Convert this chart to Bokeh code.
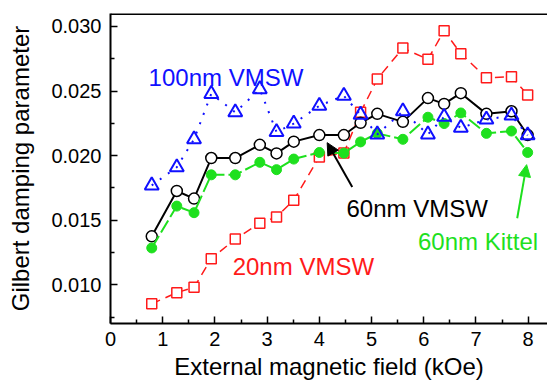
from bokeh.plotting import figure
from bokeh.models import Range1d, FixedTicker, Span, Arrow, NormalHead, Label, NumeralTickFormatter
from bokeh.embed import file_html
from bokeh.resources import INLINE

# Data
field = [0.79, 1.27, 1.60, 1.93, 2.39, 2.86, 3.18, 3.51, 4.00, 4.47,
         4.79, 5.11, 5.60, 6.08, 6.39, 6.71, 7.20, 7.68, 7.99]
vmsw60 = [0.01375, 0.01726, 0.01667, 0.01981, 0.01981, 0.02083, 0.02017, 0.02108, 0.02159, 0.02159,
          0.02254, 0.02323, 0.02261, 0.02445, 0.02400, 0.02483, 0.02323, 0.02343, 0.02159]
kittel60 = [0.01285, 0.01609, 0.01558, 0.01851, 0.01851, 0.01948, 0.01891, 0.01973, 0.02024, 0.02019,
            0.02106, 0.02172, 0.02126, 0.02297, 0.02248, 0.02330, 0.02172, 0.02190, 0.02024]
vmsw100 = [0.01769, 0.01910, 0.02126, 0.02478, 0.02335, 0.02514, 0.02182, 0.02248, 0.02386, 0.02463,
           0.02317, 0.02164, 0.02343, 0.02164, 0.02300, 0.02215, 0.02279, 0.02310, 0.02157]
vmsw20 = [0.00852, 0.00939, 0.00980, 0.01201, 0.01354, 0.01476, 0.01525, 0.01655, 0.01990, 0.02020,
          0.02335, 0.02593, 0.02832, 0.02745, 0.02967, 0.02789, 0.02602, 0.02610, 0.02470]

x_ticks = [0, 1, 2, 3, 4, 5, 6, 7, 8]
x_minor = [0.5, 1.5, 2.5, 3.5, 4.5, 5.5, 6.5, 7.5]
y_ticks = [0.010, 0.015, 0.020, 0.025, 0.030]
y_minor = [0.0075, 0.0125, 0.0175, 0.0225, 0.0275]

BLUE = "#1010ff"
RED = "#ff1a1a"
GREEN = "#1ee01e"
FONT = "Liberation Sans"

p = figure(width=547, height=382, output_backend="svg", toolbar_location=None,
           x_range=Range1d(0, 8.37), y_range=Range1d(0.007, 0.031),
           min_border_left=110, min_border_right=0, min_border_top=13, min_border_bottom=55)
p.outline_line_color = None
p.grid.visible = False
p.background_fill_color = "white"
p.border_fill_color = "white"

for ax in (p.xaxis[0], p.yaxis[0]):
    ax.axis_line_width = 2
    ax.axis_line_color = "black"
    ax.major_tick_in = 7
    ax.major_tick_out = 0
    ax.minor_tick_in = 4
    ax.minor_tick_out = 0
    ax.major_tick_line_width = 1.5
    ax.minor_tick_line_width = 1.5
    ax.major_label_text_font = FONT
    ax.major_label_text_font_size = "20px"
    ax.major_label_text_color = "black"
    ax.axis_label_text_font = FONT
    ax.axis_label_text_font_size = "24px"
    ax.axis_label_text_font_style = "normal"
    ax.axis_label_text_color = "black"

p.xaxis.ticker = FixedTicker(ticks=x_ticks, minor_ticks=x_minor)
p.yaxis.ticker = FixedTicker(ticks=y_ticks, minor_ticks=y_minor)
p.yaxis.formatter = NumeralTickFormatter(format="0.000")
p.xaxis.axis_label = "External magnetic field (kOe)"
p.yaxis.axis_label = "Gilbert damping parameter"
p.xaxis.major_label_standoff = 8
p.yaxis.major_label_standoff = 9
p.xaxis.axis_label_standoff = 4
p.yaxis.axis_label_standoff = 14

p.add_layout(Span(location=0.031, dimension="width", line_color="black", line_width=3))

# 20nm VMSW
p.line(field, vmsw20, line_color=RED, line_width=1.5, line_dash="9 6")
p.scatter(field, vmsw20, marker="square", size=10, line_color=RED, line_width=1.5, fill_color="white")

# 60nm VMSW
p.line(field, vmsw60, line_color="black", line_width=2)
p.scatter(field, vmsw60, marker="circle", size=11, line_color="black", line_width=1.5, fill_color="white")

# 60nm Kittel
p.line(field, kittel60, line_color=GREEN, line_width=2, line_dash="14 4")
p.scatter(field, kittel60, marker="circle", size=10, line_color=GREEN, fill_color=GREEN)

# 100nm VMSW
p.line(field, vmsw100, line_color=BLUE, line_width=2, line_dash="2 8")
p.scatter(field, vmsw100, marker="triangle", size=14, line_color=BLUE, line_width=2, fill_color=None)

# Annotations
def lab(x, y, t, c):
    p.add_layout(Label(x=x, y=y, text=t, text_color=c, text_font=FONT, text_font_size="24px",
                       text_baseline="alphabetic", text_align="left"))

lab(0.73, 0.02608, "100nm VMSW", BLUE)
lab(4.52, 0.01591, "60nm VMSW", "black")
lab(5.89, 0.01336, "60nm Kittel", GREEN)
lab(2.34, 0.01145, "20nm VMSW", RED)

p.add_layout(Arrow(x_start=4.63, y_start=0.01757, x_end=4.15, y_end=0.0210,
                   line_color="black", line_width=2,
                   end=NormalHead(size=12, fill_color="black", line_color="black")))
p.add_layout(Arrow(x_start=7.79, y_start=0.01515, x_end=7.97, y_end=0.0193,
                   line_color=GREEN, line_width=2,
                   end=NormalHead(size=12, fill_color=GREEN, line_color=GREEN)))

open("out.html", "w").write(file_html(p, INLINE))
